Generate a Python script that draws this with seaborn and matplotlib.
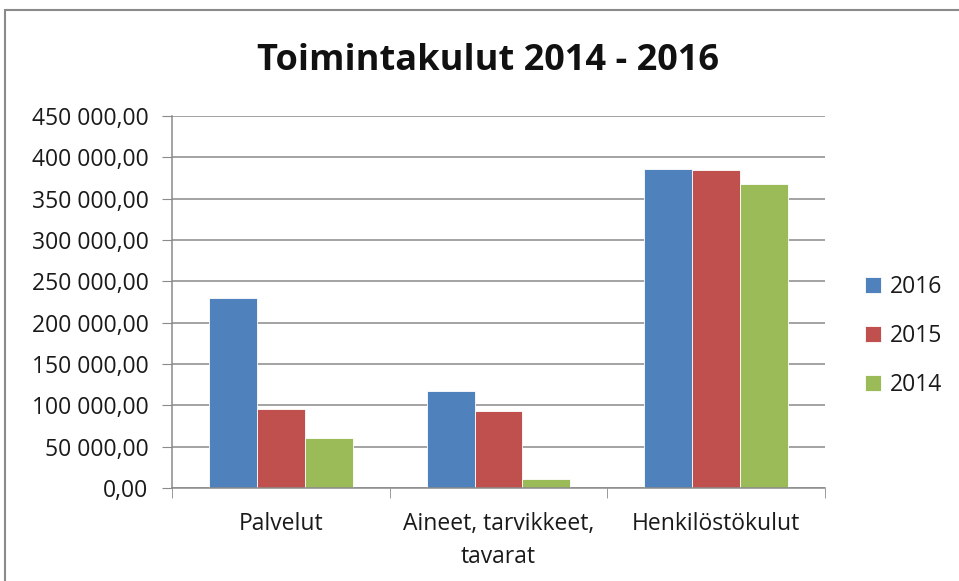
import matplotlib
matplotlib.use("Agg")
import matplotlib.pyplot as plt
import seaborn as sns
import pandas as pd
from matplotlib.ticker import FuncFormatter, FixedLocator
from matplotlib.patches import Rectangle

categories = ["Palvelut", "Aineet, tarvikkeet,\ntavarat", "Henkilöstökulut"]
years = ["2016", "2015", "2014"]
values_2016 = [229500, 117500, 385600]
values_2015 = [95500, 93000, 384500]
values_2014 = [60500, 10500, 367500]
colors = ["#4F81BD", "#C0504D", "#9BBB59"]
yticks = [0, 50000, 100000, 150000, 200000, 250000, 300000, 350000, 400000, 450000]

rows = []
for y, vals in zip(years, [values_2016, values_2015, values_2014]):
    for c, v in zip(categories, vals):
        rows.append({"cat": c, "year": y, "value": v})
df = pd.DataFrame(rows)

sns.set_style("white")
plt.rcParams["font.family"] = ["Open Sans", "DejaVu Sans"]

fig = plt.figure(figsize=(9.59, 5.81), dpi=100)
ax = fig.add_axes([172/959, 1 - 488/581, (825-172)/959, (488-116)/581])

sns.barplot(data=df, x="cat", y="value", hue="year", hue_order=years,
            order=categories, palette=colors, width=0.66, gap=0,
            edgecolor="white", linewidth=0.6, saturation=1, ax=ax, legend=True)

ax.set_ylim(0, 450000)
ax.set_xlim(-0.5, 2.5)
ax.yaxis.set_major_locator(FixedLocator(yticks))
def fmt(v, pos):
    s = f"{int(round(v)):,}".replace(",", " ")
    return s + ",00"
ax.yaxis.set_major_formatter(FuncFormatter(fmt))
ax.grid(axis="y", color="#8a8a8a", linewidth=1.1)
ax.set_axisbelow(True)
ax.set_xlabel("")
ax.set_ylabel("")
for s in ["top", "right"]:
    ax.spines[s].set_visible(False)
for s in ["left", "bottom"]:
    ax.spines[s].set_color("#8a8a8a")
    ax.spines[s].set_linewidth(1.1)
ax.tick_params(axis="y", which="major", length=7, color="#8a8a8a", labelsize=16.5,
               pad=10, left=True, labelcolor="#1a1a1a")
ax.tick_params(axis="x", which="major", length=0, labelsize=16.5, pad=17, labelcolor="#1a1a1a")
ax.set_xticks([-0.5, 0.5, 1.5, 2.5], minor=True)
ax.tick_params(axis="x", which="minor", length=7, color="#8a8a8a", bottom=True)
for lbl in ax.get_xticklabels():
    lbl.set_verticalalignment("top")
    lbl.set_linespacing(1.5)

leg = ax.legend(loc="center left", bbox_to_anchor=(865/959, 1 - 336/581),
                bbox_transform=fig.transFigure, frameon=False, fontsize=16.5,
                handlelength=0.68, handleheight=0.68, labelspacing=1.1, handletextpad=0.4,
                borderpad=0, borderaxespad=0)
for t in leg.get_texts():
    t.set_color("#1a1a1a")

fig.text(488/959, 1 - 61/581, "Toimintakulut 2014 - 2016", ha="center", va="center",
         fontsize=26, fontweight="bold", color="#111111")

fig.patches.append(Rectangle((5/959, -0.1), 1.2, 1 - 10/581 + 0.1, transform=fig.transFigure,
                             fill=False, edgecolor="#8a8a8a", linewidth=1.5))

fig.savefig("out.png", dpi=100)
